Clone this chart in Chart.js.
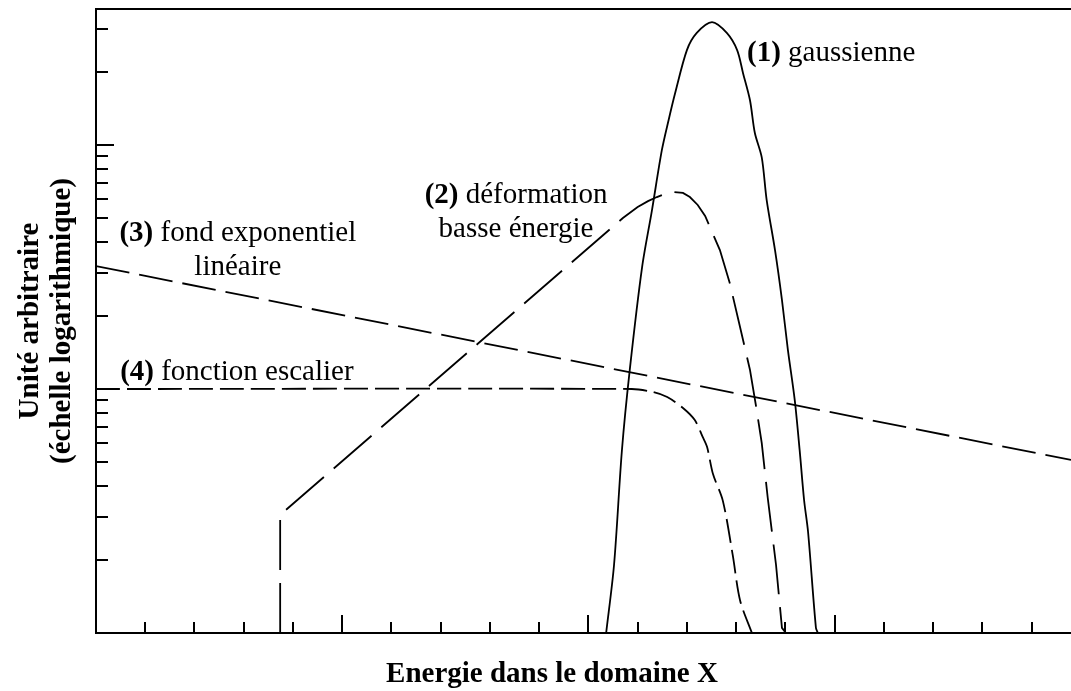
<!DOCTYPE html>
<html>
<head>
<meta charset="utf-8">
<script src="https://cdn.jsdelivr.net/npm/chart.js@4"></script>
<style>
  body { margin: 0; background: #fff; }
</style>
</head>
<body>
<canvas id="chartEnergie" width="1071" height="691"></canvas>
<script>
// (1) gaussienne
var gaussX = [10.36, 10.52, 10.68, 10.84, 11.09, 11.29, 11.49, 11.63, 11.76, 12.0, 12.2, 12.51, 12.81, 13.02, 13.14, 13.28, 13.38, 13.52, 13.62, 13.79, 13.93, 14.05, 14.19, 14.29, 14.38, 14.46, 14.62, 14.66];
var gaussY = [1, 1.9, 5.6, 12, 31.6, 54, 95, 127, 163, 245, 288, 319, 288, 245, 197, 153, 112, 89, 59.5, 37, 23.2, 14.5, 9.0, 5.6, 3.5, 2.6, 1.05, 1];

// (2) deformation basse energie
var deformX = [3.74, 3.74, 10.7, 11.0, 11.21, 11.39, 11.55, 11.72, 11.92, 12.06, 12.22, 12.37, 12.51, 12.67, 12.87, 13.08, 13.28, 13.4, 13.52, 13.64, 13.81, 13.93, 14.01];
var deformY = [1, 3.05, 50.2, 55.7, 58.9, 61.2, 63.0, 64.2, 63.6, 61.2, 56.8, 51.2, 44.0, 37.1, 27.2, 17.9, 12, 8.6, 6.0, 3.6, 1.9, 1.05, 1];

// (3) fond exponentiel lineaire
var fondX = [0, 19.8];
var fondY = [31.9, 5.12];

// (4) fonction escalier
var escalierX = [0, 10.88, 11.31, 11.6, 11.92, 12.16, 12.32, 12.41, 12.53, 12.73, 12.93, 13.08, 13.32];
var escalierY = [10, 10, 9.72, 9.27, 8.36, 7.46, 6.36, 5.78, 4.48, 3.48, 2.09, 1.36, 1];

// axis ticks (no labels on this chart)
var xTicks = [1, 2, 3, 4, 5, 6, 7, 8, 9, 10, 11, 12, 13, 14, 15, 16, 17, 18, 19];
var xMajor = [5, 10, 15];
var yTicks = [2, 3, 4, 5, 6, 7, 8, 9, 10, 20, 30, 40, 50, 60, 70, 80, 90, 100, 200, 300];
var yMajor = [10, 100];

function pts(xs, ys) {
  return xs.map(function (x, i) { return { x: x, y: ys[i] }; });
}

var serif = "'Liberation Serif', 'Times New Roman', serif";

// text notes, anchored in data units
var notes = [
  { x: 13.22, y: 221, num: '(1)', lines: ['gaussienne'], align: 'left' },
  { x: 8.53, y: 57.8, num: '(2)', lines: ['déformation', 'basse énergie'], align: 'center' },
  { x: 2.88, y: 40.4, num: '(3)', lines: ['fond exponentiel', 'linéaire'], align: 'center' },
  { x: 0.49, y: 10.9, num: '(4)', lines: ['fonction escalier'], align: 'left' }
];

var frame = {
  id: 'frame',
  afterDatasetsDraw: function (chart) {
    var ctx = chart.ctx;
    var area = chart.chartArea;
    var x = chart.scales.x;
    var y = chart.scales.y;
    ctx.save();
    ctx.strokeStyle = '#000';
    ctx.lineWidth = 2;
    ctx.beginPath();
    // top border
    ctx.moveTo(area.left, area.top);
    ctx.lineTo(area.right, area.top);
    // inward ticks
    x.ticks.forEach(function (t) {
      var px = Math.round(x.getPixelForValue(t.value));
      var len = xMajor.indexOf(t.value) >= 0 ? 18 : 11;
      ctx.moveTo(px, area.bottom);
      ctx.lineTo(px, area.bottom - len);
    });
    y.ticks.forEach(function (t) {
      var py = Math.round(y.getPixelForValue(t.value));
      var len = yMajor.indexOf(t.value) >= 0 ? 18 : 12;
      ctx.moveTo(area.left, py);
      ctx.lineTo(area.left + len, py);
    });
    ctx.stroke();

    // notes
    ctx.fillStyle = '#000';
    ctx.textBaseline = 'alphabetic';
    var bold = 'bold 29px ' + serif;
    var normal = '29px ' + serif;
    notes.forEach(function (n) {
      var cx = x.getPixelForValue(n.x);
      var by = y.getPixelForValue(n.y);
      n.lines.forEach(function (line, i) {
        var head = i === 0 ? n.num + ' ' : '';
        ctx.font = bold;
        var wHead = ctx.measureText(head).width;
        ctx.font = normal;
        var wLine = ctx.measureText(line).width;
        var start = n.align === 'center' ? cx - (wHead + wLine) / 2 : cx;
        ctx.textAlign = 'left';
        if (head) {
          ctx.font = bold;
          ctx.fillText(head, start, by + i * 34);
        }
        ctx.font = normal;
        ctx.fillText(line, start + wHead, by + i * 34);
      });
    });

    // x axis title
    ctx.font = bold;
    ctx.textAlign = 'center';
    ctx.textBaseline = 'middle';
    ctx.fillText('Energie dans le domaine X', x.getPixelForValue(9.26), area.bottom + 42);
    ctx.restore();
  }
};

var ctx = document.getElementById('chartEnergie').getContext('2d');
var chartEnergie = new Chart(ctx, {
  type: 'scatter',
  data: {
    datasets: [{
      label: '(1) gaussienne',
      data: pts(gaussX, gaussY),
      borderColor: '#000',
      borderWidth: 1.8,
      tension: 0.3
    }, {
      label: '(2) déformation basse énergie',
      data: pts(deformX, deformY),
      borderColor: '#000',
      borderWidth: 1.8,
      borderDash: [50, 13],
      tension: 0
    }, {
      label: '(3) fond exponentiel linéaire',
      data: pts(fondX, fondY),
      borderColor: '#000',
      borderWidth: 1.8,
      borderDash: [34, 10]
    }, {
      label: '(4) fonction escalier',
      data: pts(escalierX, escalierY),
      borderColor: '#000',
      borderWidth: 1.8,
      borderDash: [24, 7],
      tension: 0.3
    }]
  },
  options: {
    responsive: false,
    animation: false,
    devicePixelRatio: 1,
    showLine: true,
    elements: { point: { radius: 0, hoverRadius: 0 } },
    layout: { padding: { top: 9, right: 0, left: 0, bottom: 0 } },
    plugins: {
      legend: { display: false },
      tooltip: { enabled: false }
    },
    scales: {
      x: {
        type: 'linear',
        min: 0,
        max: 19.8,
        grid: { display: false },
        border: { display: true, color: '#000', width: 2 },
        ticks: { display: false },
        afterBuildTicks: function (scale) {
          scale.ticks = xTicks.map(function (v) { return { value: v }; });
        },
        afterFit: function (scale) { scale.height = 58; }
      },
      y: {
        type: 'logarithmic',
        min: 1,
        max: 361,
        grid: { display: false },
        border: { display: true, color: '#000', width: 2 },
        ticks: { display: false },
        afterBuildTicks: function (scale) {
          scale.ticks = yTicks.map(function (v) { return { value: v }; });
        },
        title: {
          display: true,
          text: ['Unité arbitraire', '(échelle logarithmique)'],
          color: '#000',
          font: { family: serif, size: 29, weight: 'bold', lineHeight: 1.1 },
          padding: { top: 15, bottom: 0 }
        },
        afterFit: function (scale) { scale.width = 96; }
      }
    }
  },
  plugins: [frame]
});
</script>
</body>
</html>
